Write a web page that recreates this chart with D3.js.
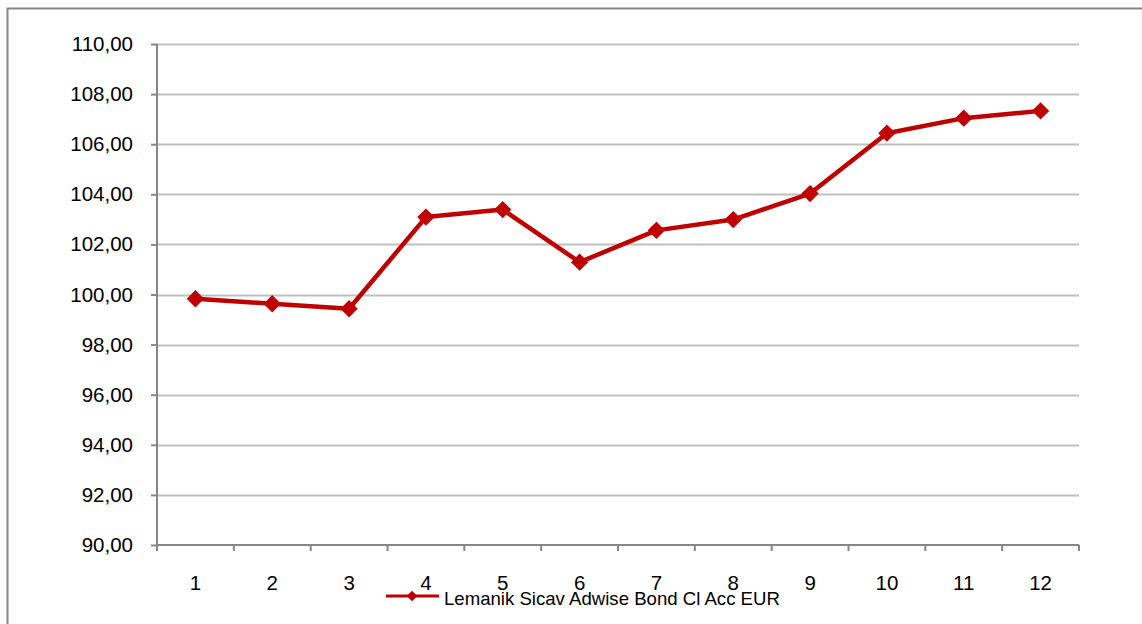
<!DOCTYPE html>
<html><head><meta charset="utf-8">
<script src="https://cdn.jsdelivr.net/npm/d3@7"></script>
<style>body{margin:0;background:#fff}svg{display:block}text{font-family:"Liberation Sans",Arial,sans-serif;fill:#000}</style>
</head><body><svg id="c" width="1142" height="624"></svg>
<script>
const categories = ["1","2","3","4","5","6","7","8","9","10","11","12"];
const values = [99.83,99.63,99.43,103.09,103.39,101.29,102.56,102.99,104.03,106.44,107.04,107.33];
const yTicks = [90,92,94,96,98,100,102,104,106,108,110];
const seriesName = "Lemanik Sicav Adwise Bond Cl Acc EUR";

const svg = d3.select("#c");
const L=157,R=1079,T=44,B=545;
svg.append("rect").attr("x",7.5).attr("y",8.5).attr("width",1140).attr("height",640).attr("fill","none").attr("stroke","#868686").attr("stroke-width",2);
const x = d3.scaleBand().domain(categories).range([L,R]).padding(0);
const y = d3.scaleLinear().domain([90,110]).range([B,T]);
const fmt = d=>d3.format(".2f")(d).replace(".",",");
// grid
svg.append("g").selectAll("line").data(yTicks.filter(d=>d>90)).join("line")
  .attr("x1",L).attr("x2",R).attr("y1",d=>Math.round(y(d))+0.5).attr("y2",d=>Math.round(y(d))+0.5)
  .attr("stroke","#c0c0c0").attr("stroke-width",2);
// y axis
const ya = svg.append("g").attr("transform",`translate(${L},0)`).call(d3.axisLeft(y).tickValues(yTicks).tickFormat(fmt).tickSize(6).tickPadding(18));
ya.select(".domain").attr("stroke","#868686").attr("stroke-width",2).attr("d",`M0,${T}V${B}`);
ya.selectAll(".tick line").attr("stroke","#868686").attr("stroke-width",2);
ya.selectAll(".tick text").style("font-size","20.5px").attr("fill","#000");
// x axis
const xa = svg.append("g").attr("transform",`translate(0,${B})`).call(d3.axisBottom(x).tickSize(0).tickPadding(30));
xa.select(".domain").attr("stroke","#868686").attr("stroke-width",2).attr("d",`M${L},0H${R}`);
xa.selectAll(".tick text").style("font-size","20.5px").attr("fill","#000");
const bounds = categories.map(c=>x(c)).concat([R]);
svg.append("g").selectAll("line").data(bounds).join("line")
  .attr("x1",d=>d).attr("x2",d=>d).attr("y1",B).attr("y2",B+6).attr("stroke","#868686").attr("stroke-width",2);
// line
const cx = c=>x(c)+x.bandwidth()/2;
const col="#c00000";
svg.append("path").datum(values).attr("fill","none").attr("stroke",col).attr("stroke-width",4.5).attr("stroke-linejoin","round")
  .attr("d",d3.line().x((d,i)=>cx(categories[i])).y(d=>y(d)));
svg.append("g").selectAll("path").data(values).join("path")
  .attr("transform",(d,i)=>`translate(${cx(categories[i])},${y(d)}) rotate(45)`)
  .attr("d",d3.symbol().type(d3.symbolSquare).size(150)).attr("fill",col);
// legend
const lg = svg.append("g").attr("transform","translate(386,596)");
lg.append("line").attr("x1",0).attr("x2",53).attr("stroke",col).attr("stroke-width",3);
lg.append("path").attr("transform","translate(26,0) rotate(45)").attr("d",d3.symbol().type(d3.symbolSquare).size(55)).attr("fill",col);
lg.append("text").attr("x",58).attr("y",9).style("font-size","18.6px").text(seriesName);
</script></body></html>
